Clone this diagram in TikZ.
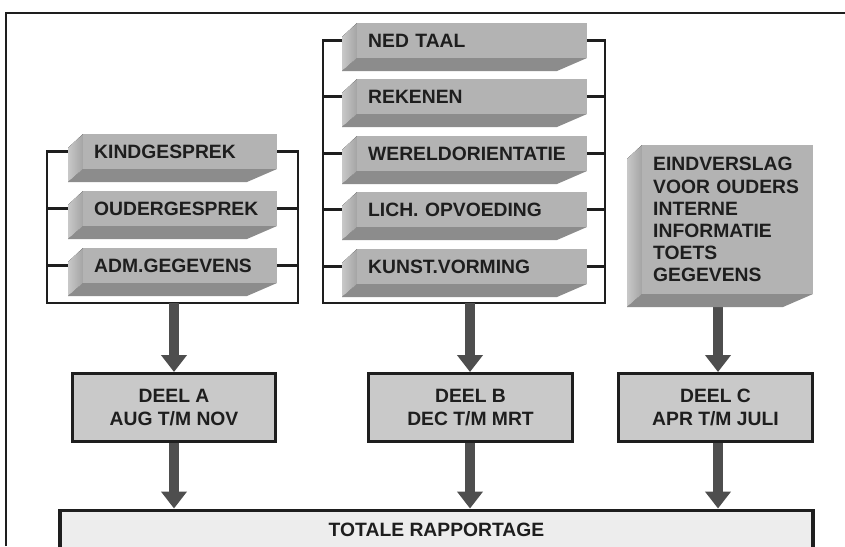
\documentclass[tikz,border=0pt]{standalone}
\usepackage{fontspec}
\setmainfont{Liberation Sans}
\usetikzlibrary{arrows.meta,backgrounds}
\definecolor{ink}{HTML}{1E1E1E}
\definecolor{facec}{HTML}{B3B3B3}
\definecolor{sidec}{HTML}{C8C8C8}
\definecolor{sided}{HTML}{A4A4A4}
\definecolor{botc}{HTML}{8C8C8C}
\definecolor{boxc}{HTML}{C9C9C9}
\definecolor{totc}{HTML}{EDEDED}
\definecolor{arrc}{HTML}{4E4E4E}
\tikzset{
  lbl/.style={font=\fontsize{19.3}{22.2}\selectfont\bfseries, text=ink},
  slabface/.style={lbl, fill=facec, anchor=north west, inner xsep=11pt, inner ysep=0pt, align=left},
  sideface/.style={left color=sidec, right color=sided},
  bottomface/.style={fill=botc},
  partbox/.style={lbl, draw=ink, line width=3pt, fill=boxc, align=center, minimum height=68pt},
  totbox/.style={lbl, draw=ink, line width=3.5pt, fill=totc, anchor=north, minimum height=40pt, minimum width=753pt},
  bracket/.style={draw=ink, line width=2.5pt},
  flow/.style={draw=arrc, line width=10pt, -{Triangle[width=25pt,length=17pt]}},
  frameline/.style={draw=ink, line width=2.5pt},
}
% name, x0, y0, x1, y1, text
\newcommand\slab[6]{%
  \fill[sideface] (#2,#3) -- (#2-15,#3+14) -- (#2-15,#5+13) -- (#2,#5) -- cycle;
  \fill[bottomface] (#2,#5) -- (#4,#5) -- (#4-30,#5+13) -- (#2-15,#5+13) -- cycle;
  \pgfmathsetmacro\slabw{#4-#2-22}%
  \pgfmathsetmacro\slabh{#5-#3}%
  \node[slabface, text width=\slabw pt, minimum height=\slabh pt] (#1) at (#2,#3) {#6};
}
\begin{document}
\begin{tikzpicture}[x=1pt,y=-1pt]
\clip (0,0) rectangle (845,546);
% left group
\slab{kind}{83}{134}{277}{169}{KINDGESPREK}
\slab{ouder}{83}{191}{277}{226}{OUDERGESPREK}
\slab{adm}{83}{248}{277}{283}{ADM.GEGEVENS}
% middle group
\slab{ned}{357}{23}{587}{58}{NED TAAL}
\slab{rek}{357}{79}{587}{114}{REKENEN}
\slab{wer}{357}{136}{587}{171}{WERELDORIENTATIE}
\slab{lich}{357}{192}{587}{227}{LICH. OPVOEDING}
\slab{kunst}{357}{249}{587}{284}{KUNST.VORMING}
% right block
\slab{eind}{642}{145}{813}{294}{EINDVERSLAG\\VOOR OUDERS\\INTERNE\\INFORMATIE\\TOETS\\GEGEVENS}
% parts
\node[partbox, minimum width=203pt] (deelA) at (174,407.5) {DEEL A\\AUG T/M NOV};
\node[partbox, minimum width=204pt] (deelB) at (470.5,407.5) {DEEL B\\DEC T/M MRT};
\node[partbox, minimum width=194pt] (deelC) at (715.5,407.5) {DEEL C\\APR T/M JULI};
\node[totbox] (tot) at (436.5,508.5) {TOTALE RAPPORTAGE};
% connection points
\coordinate (la) at (47,303);
\coordinate (ra) at (298,303);
\coordinate (lb) at (323,303);
\coordinate (rb) at (605,303);
\coordinate (ea) at (174,303);
\coordinate (eb) at (470,303);
\coordinate (ec) at (718,300);
\begin{pgfonlayer}{background}
  \fill[white] (0,0) rectangle (845,546);
  \draw[frameline] (6,546) -- (6,13) -- (845,13);
  % left bracket
  \draw[bracket] (kind.west) -| (la) -- (ra) |- (kind.east);
  \draw[bracket] (ouder.west) -- (ouder.west -| la);
  \draw[bracket] (adm.west) -- (adm.west -| la);
  \draw[bracket] (ouder.east) -- (ouder.east -| ra);
  \draw[bracket] (adm.east) -- (adm.east -| ra);
  % middle bracket
  \draw[bracket] (ned.west) -| (lb) -- (rb) |- (ned.east);
  \foreach \n in {rek,wer,lich,kunst}{
    \draw[bracket] (\n.west) -- (\n.west -| lb);
    \draw[bracket] (\n.east) -- (\n.east -| rb);
  }
  % arrows
  \draw[flow] (ea) -- (deelA.north);
  \draw[flow] (eb) -- (eb |- deelB.north);
  \draw[flow] (ec) -- (ec |- deelC.north);
  \draw[flow] (deelA.south) -- (deelA.south |- tot.north);
  \draw[flow] (deelB.south -| eb) -- (eb |- tot.north);
  \draw[flow] (deelC.south -| ec) -- (ec |- tot.north);
\end{pgfonlayer}
\end{tikzpicture}
\end{document}
